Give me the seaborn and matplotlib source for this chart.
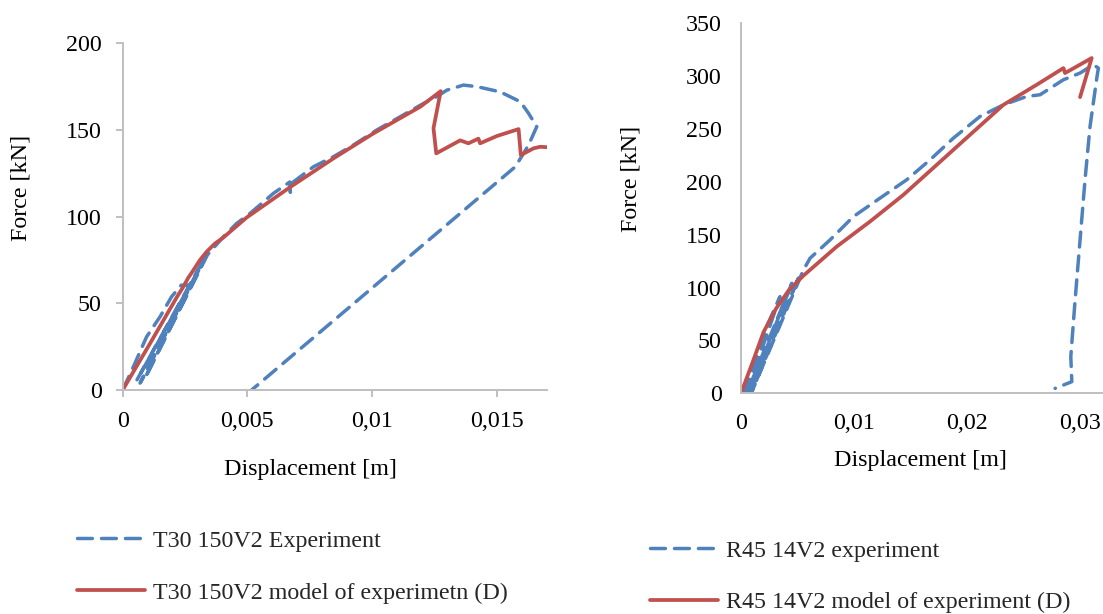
import matplotlib
matplotlib.use("Agg")
import matplotlib.pyplot as plt
import seaborn as sns
import pandas as pd

# ---------------- data ----------------
# Left chart: T30 150V2
t30_exp_x = [0, 0.00043, 0.00096, 0.0015, 0.00196, 0.00235, 0.0027, 0.00056, 0.0032, 0.0007,
             0.0033, 0.0009, 0.0034, 0.00404, 0.00457, 0.00511, 0.00604, 0.0067, 0.00672, 0.00675, 0.00765,
             0.00845, 0.00925, 0.01019, 0.01112, 0.01206, 0.01259, 0.013, 0.01366, 0.0142,
             0.01513, 0.01594, 0.01627, 0.0166, 0.01654, 0.01627, 0.01607, 0.01574, 0.00517]
t30_exp_y = [0, 13.4, 30.7, 42.3, 53.8, 60.5, 60.5, 5.5, 74, 4,
             76, 7, 78, 88.4, 96.1, 101.9, 113.4, 120, 114, 119, 128.8,
             134.6, 141.3, 150, 157.6, 165.3, 169.2, 173, 175.9, 175,
             172, 166.3, 159.6, 151.9, 150, 141.3, 136.5, 128.8, 0]
t30_mod_x = [0, 0.0011, 0.00217, 0.00243, 0.00262, 0.00283, 0.0031, 0.00337, 0.0037, 0.00404,
             0.00497, 0.00671, 0.00845,
             0.01005, 0.01193, 0.01275, 0.01246, 0.01257, 0.01353, 0.01386, 0.01426, 0.01433,
             0.015, 0.01587, 0.01596, 0.01647, 0.01674, 0.01707]
t30_mod_y = [0, 26.9, 53.5, 59.5, 64.5, 69, 75, 79.8, 84.5, 88,
             99.5, 117, 133.6,
             148, 163.4, 172.4, 151, 136.5, 144, 142.3, 145, 142.3,
             146.5, 150.5, 135.5, 139.4, 140.3, 140]

# Right chart: R45 14V2
r45_exp_x = [0.0003, 0.00227, 0.00345, 0.0005, 0.0045, 0.0007, 0.0052, 0.0009, 0.0055, 0.00611,
             0.00788, 0.00994,
             0.0123, 0.01466, 0.01673, 0.01879, 0.02115, 0.02322, 0.02528, 0.02646, 0.02853,
             0.03, 0.03118, 0.03162, 0.03148, 0.03088, 0.03044, 0.03, 0.02956, 0.02918,
             0.02927, 0.02779]
r45_exp_y = [0, 63, 91.4, 0, 104, 0, 112, 0, 116, 127.7,
             145, 167,
             184.5, 201.8, 220.7, 241.2, 261.7, 272.7, 280.6, 282.2, 296.4,
             302.7, 310.6, 307.4, 298, 252, 202, 145, 88, 34.6,
             11, 4.7]
r45_mod_x = [0, 0.00105, 0.002, 0.0031, 0.0042, 0.0055, 0.007, 0.00847, 0.01142, 0.01437, 0.01732,
             0.02027, 0.02322, 0.02617, 0.02853, 0.02867, 0.03103, 0.03]
r45_mod_y = [0, 30, 58, 80, 97, 111, 125, 138.7, 162.4, 187.6, 216,
             244.4, 272.7, 291.7, 307.4, 302.7, 316.9, 280]

left_xticks = [0, 0.005, 0.01, 0.015]
left_xticklabels = ["0", "0,005", "0,01", "0,015"]
left_yticks = [0, 50, 100, 150, 200]
right_xticks = [0, 0.01, 0.02, 0.03]
right_xticklabels = ["0", "0,01", "0,02", "0,03"]
right_yticks = [0, 50, 100, 150, 200, 250, 300, 350]

left_labels = ["T30 150V2 Experiment", "T30 150V2 model of experimetn (D)"]
right_labels = ["R45 14V2 experiment", "R45 14V2 model of experiment (D)"]

# ---------------- style ----------------
sns.set_theme(style="white")
plt.rcParams["font.family"] = ["Liberation Serif", "DejaVu Serif"]
FS = 17.3
BLUE = "#4F81BD"
RED = "#C0504D"
AXC = "#BFBFBF"

fig = plt.figure(figsize=(11.03, 6.14), dpi=100)
axL = fig.add_axes([0.1112, 0.3648, 0.4957 - 0.1112, 0.9295 - 0.3648])
axR = fig.add_axes([0.6718, 0.3594, 0.9997 - 0.6718, 0.9625 - 0.3594])

LW = 2.5
DASH = (4.3, 2.6)


def draw(ax, ex, ey, mx, my, labels):
    d_exp = pd.DataFrame({"x": ex, "y": ey})
    d_mod = pd.DataFrame({"x": mx, "y": my})
    sns.lineplot(data=d_exp, x="x", y="y", sort=False, estimator=None, ax=ax,
                 color=BLUE, lw=LW, dashes=False, label=labels[0])
    ax.lines[-1].set_dashes(DASH)
    ax.lines[-1].set_dash_capstyle("round")
    sns.lineplot(data=d_mod, x="x", y="y", sort=False, estimator=None, ax=ax,
                 color=RED, lw=LW + 0.2, label=labels[1])
    ax.lines[-1].set_solid_joinstyle("round")
    for s in ["top", "right"]:
        ax.spines[s].set_visible(False)
    for s in ["left", "bottom"]:
        ax.spines[s].set_color(AXC)
        ax.spines[s].set_linewidth(1.4)
    ax.set_facecolor("white")
    ax.grid(False)
    ax.get_legend().remove()


draw(axL, t30_exp_x, t30_exp_y, t30_mod_x, t30_mod_y, left_labels)
draw(axR, r45_exp_x, r45_exp_y, r45_mod_x, r45_mod_y, right_labels)

# left axes
axL.set_xlim(0, 0.0170)
axL.set_ylim(0, 200)
axL.set_xticks(left_xticks)
axL.set_xticklabels(left_xticklabels)
axL.set_yticks(left_yticks)
axL.set_yticklabels([str(v) for v in left_yticks])
axL.tick_params(axis="both", which="both", direction="out", length=5, width=1.4,
                color=AXC, labelsize=FS, labelcolor="black", left=True, bottom=True)
axL.tick_params(axis="y", pad=10)
axL.tick_params(axis="x", pad=10)
axL.set_xlabel("Displacement [m]", fontsize=FS, color="black")
axL.set_ylabel("Force [kN]", fontsize=FS, color="black")
axL.xaxis.set_label_coords(0.4417, -0.200)
axL.yaxis.set_label_coords(-0.214, 0.583)

# right axes
axR.set_xlim(0, 0.0320)
axR.set_ylim(0, 350)
axR.set_xticks(right_xticks)
axR.set_xticklabels(right_xticklabels)
axR.set_yticks(right_yticks)
axR.set_yticklabels([str(v) for v in right_yticks])
axR.tick_params(axis="both", which="both", length=0, labelsize=FS, labelcolor="black")
axR.tick_params(axis="y", pad=14)
axR.tick_params(axis="x", pad=14)
axR.set_xlabel("Displacement [m]", fontsize=FS, color="black")
axR.set_ylabel("Force [kN]", fontsize=FS, color="black")
axR.xaxis.set_label_coords(0.495, -0.152)
axR.yaxis.set_label_coords(-0.274, 0.58)

# legends
hL, lL = axL.get_legend_handles_labels()
hR, lR = axR.get_legend_handles_labels()
leg_kw = dict(frameon=False, fontsize=FS, handlelength=2.85, handletextpad=0.3,
              labelspacing=1.25, borderpad=0, borderaxespad=0, loc="center left")
fig.legend(hL, lL, bbox_to_anchor=(0.0698, 0.0770), **leg_kw)
fig.legend(hR, lR, bbox_to_anchor=(0.5893, 0.0610), **leg_kw)

fig.savefig("out.png", dpi=100, facecolor="white")
